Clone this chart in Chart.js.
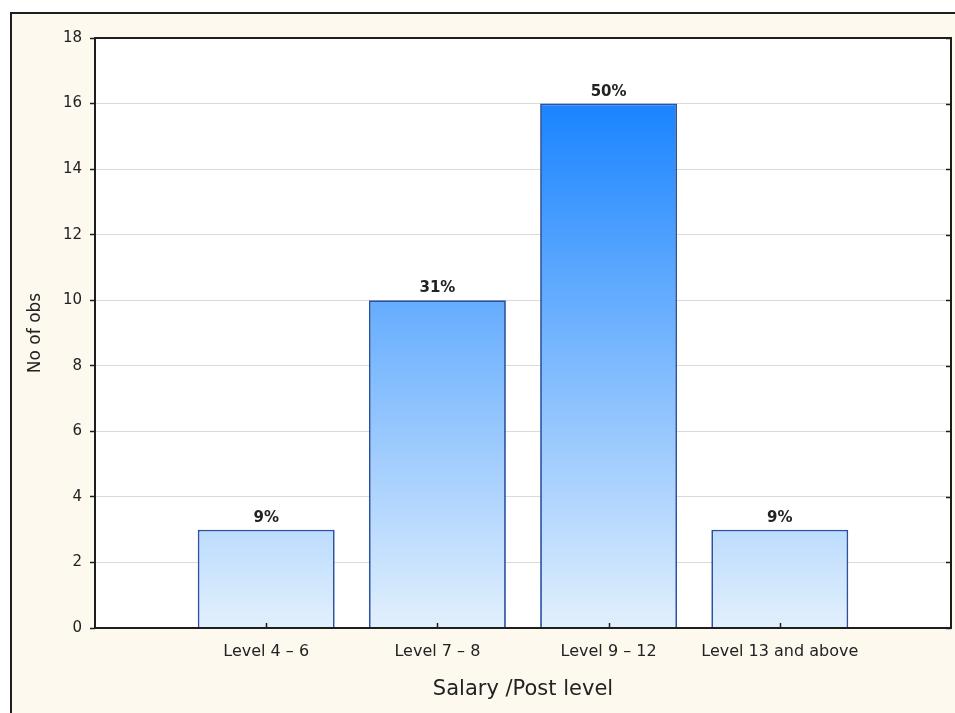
<!DOCTYPE html>
<html>
<head>
<meta charset="utf-8">
<script src="https://cdn.jsdelivr.net/npm/chart.js@4/dist/chart.umd.min.js"></script>
<style>
  html, body { margin: 0; padding: 0; background: #ffffff; }
  canvas { display: block; }
</style>
</head>
<body>
<canvas id="chart" width="955" height="713"></canvas>
<script>
// Salary / post level distribution
const categories = ['Level 4 \u2013 6', 'Level 7 \u2013 8', 'Level 9 \u2013 12', 'Level 13 and above'];
const counts = [3, 10, 16, 3];
const shares = ['9%', '31%', '50%', '9%'];
const yTicks = [0, 2, 4, 6, 8, 10, 12, 14, 16, 18];

// One empty slot on each side of the categories
const labels = [''].concat(categories, ['']);
const values = [null].concat(counts, [null]);
const valueLabels = [''].concat(shares, ['']);

const FONT = "'DejaVu Sans', 'Liberation Sans', sans-serif";

// Vertical gradient shared by all bars (deep blue at the top value, pale at zero)
function barFill(context) {
  const chart = context.chart;
  const y = chart.scales && chart.scales.y;
  if (!chart.chartArea || !y) return '#7db8fb';
  const g = chart.ctx.createLinearGradient(0, y.getPixelForValue(16), 0, y.getPixelForValue(0));
  g.addColorStop(0, '#1a84ff');
  g.addColorStop(1, '#e2f0fd');
  return g;
}

const framePlugin = {
  id: 'frame',
  beforeDraw(chart) {
    const { ctx, width, height, chartArea: a } = chart;
    ctx.save();
    ctx.fillStyle = '#ffffff';
    ctx.fillRect(0, 0, width, height);
    ctx.fillStyle = '#fdf9ef';
    ctx.fillRect(10, 12, width - 10, height - 12);
    ctx.strokeStyle = '#1e1e1e';
    ctx.lineWidth = 2;
    ctx.beginPath();
    ctx.moveTo(11, height);
    ctx.lineTo(11, 13);
    ctx.lineTo(width, 13);
    ctx.stroke();
    ctx.fillStyle = '#ffffff';
    ctx.fillRect(a.left, a.top, a.right - a.left, a.bottom - a.top);
    ctx.restore();
  },
  afterDatasetsDraw(chart) {
    const { ctx, chartArea: a, scales } = chart;
    ctx.save();
    ctx.strokeStyle = '#1e1e1e';
    ctx.lineWidth = 1.5;
    ctx.beginPath();
    // inward ticks on the right edge
    yTicks.forEach(v => {
      const py = Math.round(scales.y.getPixelForValue(v)) + 0.5;
      ctx.moveTo(a.right - 5, py);
      ctx.lineTo(a.right, py);
    });
    // inward ticks at the category centres
    categories.forEach((c, i) => {
      const px = Math.round(scales.x.getPixelForValue(i + 1)) + 0.5;
      ctx.moveTo(px, a.bottom);
      ctx.lineTo(px, a.bottom - 5);
    });
    ctx.stroke();
    ctx.lineWidth = 2;
    ctx.strokeRect(a.left, a.top, a.right - a.left, a.bottom - a.top);

    // value labels above the bars
    ctx.fillStyle = '#222222';
    ctx.font = 'bold 15px ' + FONT;
    ctx.textAlign = 'center';
    ctx.textBaseline = 'alphabetic';
    chart.getDatasetMeta(0).data.forEach((bar, i) => {
      if (values[i] == null) return;
      ctx.fillText(valueLabels[i], bar.x, bar.y - 8);
    });
    ctx.restore();
  }
};

new Chart(document.getElementById('chart'), {
  type: 'bar',
  data: {
    labels: labels,
    datasets: [{
      data: values,
      backgroundColor: barFill,
      borderColor: '#2a52a2',
      borderWidth: 1.8,
      barPercentage: 0.8,
      categoryPercentage: 1
    }]
  },
  options: {
    responsive: false,
    animation: false,
    devicePixelRatio: 1,
    layout: { padding: { left: 0, top: 38, right: 4, bottom: 0 } },
    plugins: { legend: { display: false }, tooltip: { enabled: false } },
    scales: {
      x: {
        offset: false,
        grid: { display: false, drawTicks: false },
        border: { display: false },
        ticks: {
          autoSkip: false, maxRotation: 0, minRotation: 0, padding: 14,
          color: '#222222', font: { family: FONT, size: 16 }
        },
        title: {
          display: true, text: 'Salary /Post level', color: '#222222',
          font: { family: FONT, size: 21 }, padding: { top: 0, bottom: 11 }
        },
        afterFit(scale) {
          scale.height = 85;
          scale.paddingLeft = 0;
          scale.paddingRight = 0;
        }
      },
      y: {
        min: 0, max: 18,
        grid: { color: '#dadada', lineWidth: 1, tickColor: '#1e1e1e', tickLength: 5, tickWidth: 1.5 },
        border: { display: false },
        ticks: {
          stepSize: 2, padding: 8, color: '#222222',
          font: { family: FONT, size: 15 }
        },
        afterBuildTicks(scale) { scale.ticks = yTicks.map(v => ({ value: v })); },
        title: {
          display: true, text: 'No of obs', color: '#222222',
          font: { family: FONT, size: 17 }, padding: { top: 25, bottom: 0 }
        },
        afterFit(scale) { scale.width = 95; }
      }
    }
  },
  plugins: [framePlugin]
});
</script>
</body>
</html>
